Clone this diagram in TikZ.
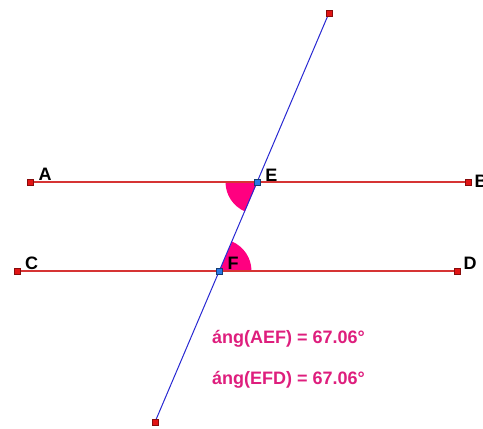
\documentclass[tikz,border=0pt]{standalone}
\usepackage{fontspec}
\setmainfont{Liberation Sans}
\usetikzlibrary{calc}
\definecolor{segred}{RGB}{214,52,52}
\definecolor{lineblue}{RGB}{40,40,210}
\definecolor{anglepink}{RGB}{255,0,128}
\definecolor{measpink}{RGB}{222,30,125}
\definecolor{ptred}{RGB}{225,20,20}
\definecolor{ptblue}{RGB}{40,120,230}
\begin{document}
\begin{tikzpicture}[x=1pt, y=-1pt,
    pt/.style={rectangle, inner sep=0pt, minimum size=6pt, fill=ptred, draw=ptred!60!black, line width=0.5pt},
    ptb/.style={pt, fill=ptblue, draw=ptblue!50!black},
    lbl/.style={font=\fontsize{18}{21}\selectfont\bfseries, inner sep=0pt},
    meas/.style={lbl, text=measpink, anchor=base west}]
	\useasboundingbox (0,0) rectangle (483,429);
	\coordinate (A) at (30,182);
	\coordinate (B) at (468,182);
	\coordinate (C) at (17,271);
	\coordinate (D) at (457,271);
	\coordinate (E) at (257.5,182);
	\coordinate (F) at (219.5,271);
	\coordinate (P) at (329,13);
	\coordinate (Q) at (155,422);
	% angle sectors
	\fill[anglepink] (E) -- ++(180:32) arc[start angle=180, end angle=113.1, radius=32] -- cycle;
	\fill[anglepink] (F) -- ++(0:32) arc[start angle=0, end angle=-66.9, radius=32] -- cycle;
	% lines
	\draw[segred, line width=1.2pt] (A) -- (B);
	\draw[segred, line width=1.2pt] (C) -- (D);
	\draw[lineblue, line width=1pt] (P) -- (Q);
	% points
	\node[pt] (pA) at (A) {};
	\node[pt] (pB) at (B) {};
	\node[pt] (pC) at (C) {};
	\node[pt] (pD) at (D) {};
	\node[pt] (pP) at (P) {};
	\node[pt] (pQ) at (Q) {};
	\node[ptb] (pE) at (E) {};
	\node[ptb] (pF) at (F) {};
	\node[lbl] (lA) at (45,174) {A};
	\node[lbl] (lB) at (481,181) {B};
	\node[lbl] (lC) at (31.5,263) {C};
	\node[lbl] (lD) at (470,263) {D};
	\node[lbl] (lE) at (271.5,175) {E};
	\node[lbl] (lF) at (233,263) {F};
	\node[meas] (m1) at (212,343) {áng(AEF) = 67.06°};
	\node[meas] (m2) at (212,384) {áng(EFD) = 67.06°};
\end{tikzpicture}
\end{document}
